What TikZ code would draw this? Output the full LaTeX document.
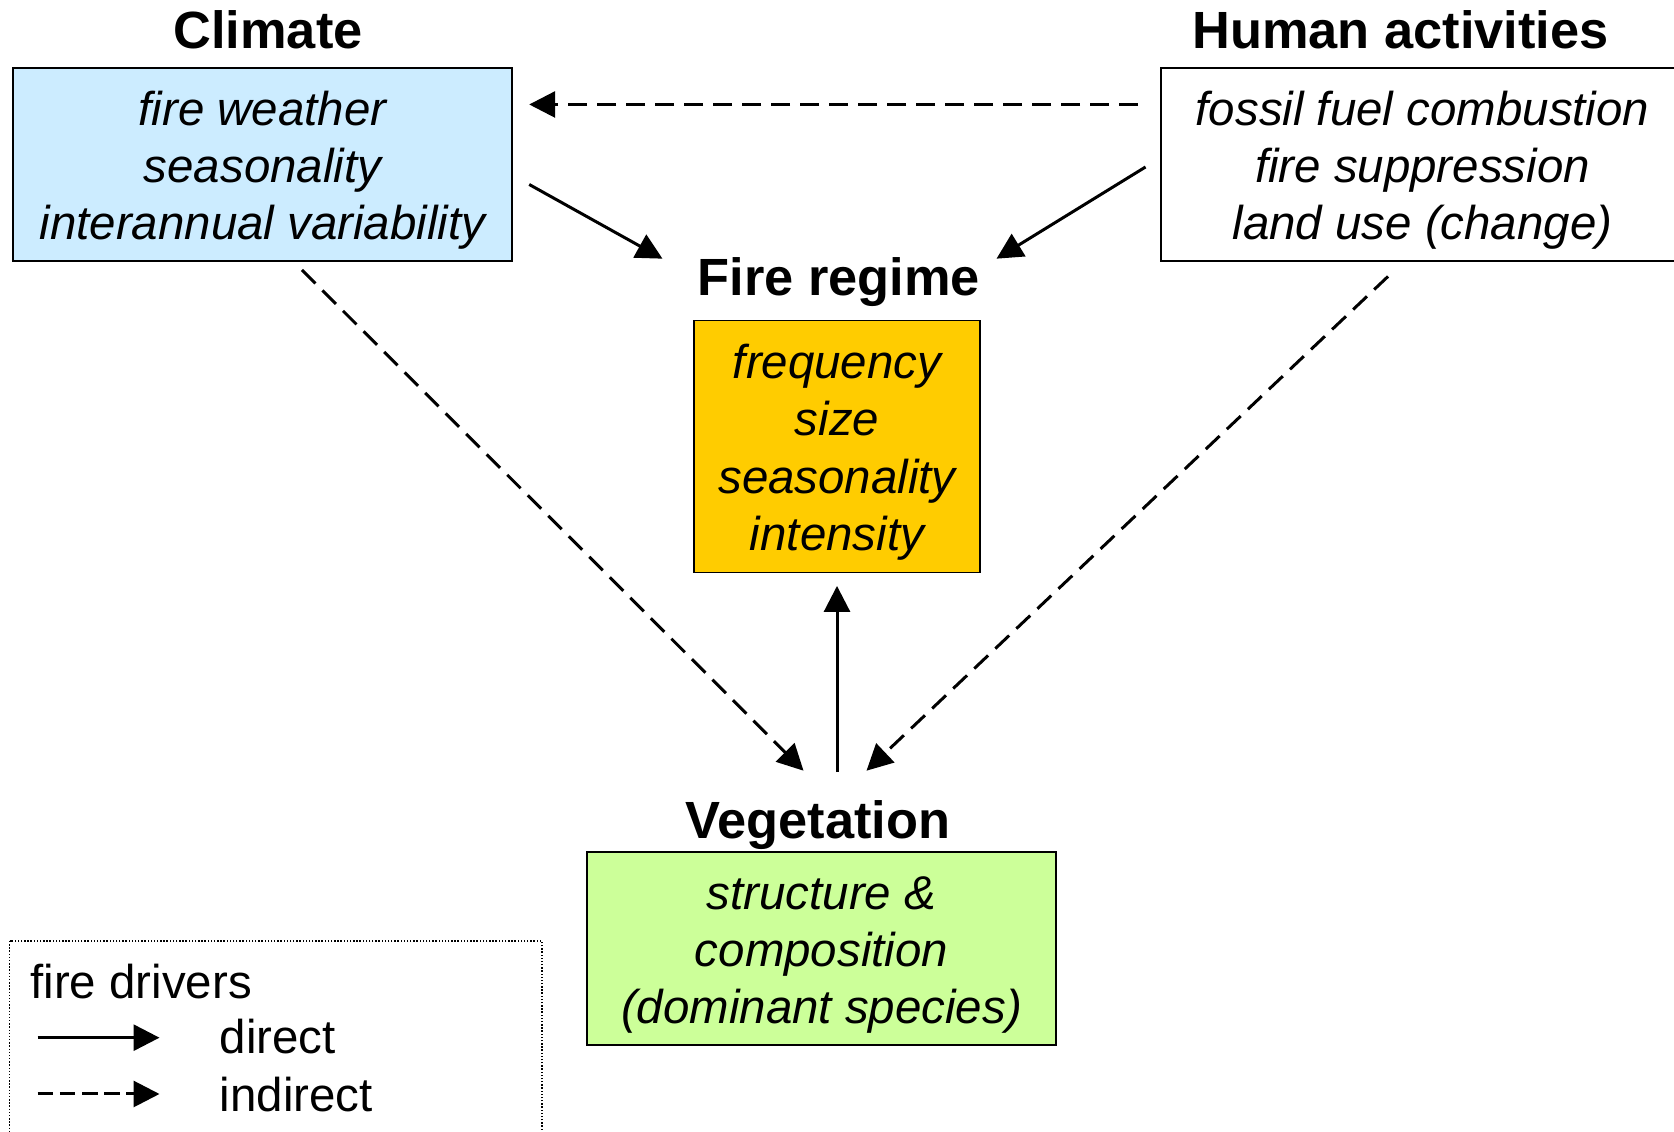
\documentclass[tikz,border=0pt]{standalone}
\usepackage{fontspec}
\setmainfont{Liberation Sans}
\usepackage{tikz}
\usetikzlibrary{positioning, arrows.meta, calc}

\definecolor{climateblue}{HTML}{CCECFF}
\definecolor{firegold}{HTML}{FFCC00}
\definecolor{veggreen}{HTML}{CCFF99}

% extra room above the first line of a box
\newcommand{\topline}{\rule{0pt}{26pt}}

\begin{document}
\begin{tikzpicture}[
    box/.style={draw, line width=1.1pt, align=center, inner sep=0pt,
        font=\fontsize{27}{32.6}\selectfont\itshape},
    heading/.style={anchor=base, inner sep=0pt,
        font=\fontsize{29.8}{36}\selectfont\bfseries},
    keytext/.style={anchor=base west, inner sep=0pt,
        font=\fontsize{27}{32.6}\selectfont},
    direct/.style={-{Triangle[length=0.52cm, width=0.52cm]}, line width=1.7pt},
    indirect/.style={direct, dash pattern=on 0.38cm off 0.2cm},
]
    % Page frame
    \useasboundingbox (0,0) rectangle (33.48,22.64);
    \clip (0,0) rectangle (33.48,22.64);

    % Boxes
    \node[box, fill=climateblue, minimum width=9.99cm, minimum height=3.86cm]
        (climate) at (5.25,19.35) {\topline fire weather\\ seasonality\\ interannual variability};
    \node[box, fill=white, minimum width=10.46cm, minimum height=3.86cm]
        (human) at (28.45,19.35) {\topline fossil fuel combustion\\ fire suppression\\ land use (change)};
    \node[box, fill=firegold, minimum width=5.72cm, minimum height=5.04cm]
        (fire) at (16.74,13.71) {\topline frequency\\ size\\ seasonality\\ intensity};
    \node[box, fill=veggreen, minimum width=9.37cm, minimum height=3.87cm]
        (veg) at (16.43,3.67) {\topline structure \&\\ composition\\ (dominant species)};

    % Headings
    \node[heading] (climatetitle) at (5.36,21.66) {Climate};
    \node[heading] (humantitle) at (28.01,21.66) {Human activities};
    \node[heading] (firetitle) at (16.78,16.72) {Fire regime};
    \node[heading] (vegtitle) at (16.36,5.87) {Vegetation};

    % Drivers
    \draw[indirect] ($(human.west)+(-0.44,1.2)$) -- ($(climate.east)+(0.32,1.2)$);
    \draw[direct] ($(climate.east)+(0.32,-0.4)$) -- ($(firetitle.north west)+(-0.7,-0.02)$);
    \draw[direct] ($(human.west)+(-0.29,-0.05)$) -- ($(firetitle.north east)+(0.32,-0.02)$);
    \draw[indirect] ($(climate.south)+(0.79,-0.16)$) -- ($(vegtitle.north)+(-0.29,0.59)$);
    \draw[indirect] ($(human.south)+(-0.69,-0.29)$) -- ($(vegtitle.north)+(0.97,0.59)$);
    \draw[direct] ($(fire.south |- vegtitle.north)+(0,0.56)$) -- ($(fire.south)+(0,-0.25)$);

    % Key
    \draw[densely dotted, line width=0.8pt] (0.19,3.82) rectangle (10.84,-1);
    \node[keytext] (keyhead) at (0.6,2.674) {fire drivers};
    \node[keytext] (keydirect) at (4.39,1.56) {direct};
    \node[keytext] (keyindirect) at (4.39,0.406) {indirect};
    \coordinate (ds) at (0.75,1.886);
    \coordinate (de) at (3.19,1.886);
    \coordinate (is) at (0.75,0.76);
    \coordinate (ie) at (3.19,0.76);
    \draw[direct] (ds) -- (de);
    \draw[indirect, dash pattern=on 0.31cm off 0.135cm] (is) -- (ie);

\end{tikzpicture}
\end{document}
